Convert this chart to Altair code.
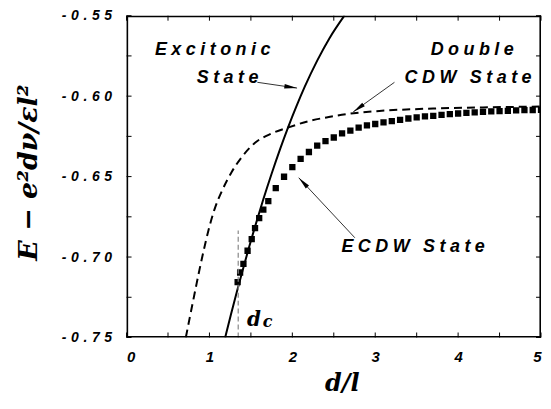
import altair as alt
import pandas as pd

# ---------------- data ----------------
# Double CDW state (dashed)
cdw_d = [0.715, 0.76, 0.80, 0.84, 0.88, 0.93, 0.99, 1.06, 1.15, 1.27, 1.40, 1.55,
         1.75, 1.95, 2.20, 2.44, 2.74, 3.05, 3.70, 4.30, 5.00]
cdw_e = [-0.7500, -0.7383, -0.7280, -0.7178, -0.7078, -0.6960, -0.6830, -0.6705,
         -0.6590, -0.6470, -0.6372, -0.6290, -0.6232, -0.6195, -0.6155, -0.6130,
         -0.6106, -0.6092, -0.6077, -0.6070, -0.6065]

# Excitonic state (solid)
exc_d = [1.19, 1.26, 1.33, 1.40, 1.475, 1.55, 1.65, 1.75, 1.85, 1.95, 2.05, 2.15,
         2.30, 2.45, 2.63]
exc_e = [-0.7500, -0.7356, -0.7217, -0.7083, -0.6944, -0.6811, -0.6641, -0.6482,
         -0.6332, -0.6192, -0.6062, -0.5941, -0.5779, -0.5638, -0.5498]

# ECDW state (squares)
ecdw_d = [1.34, 1.37, 1.41, 1.46, 1.51, 1.55, 1.60, 1.65, 1.71, 1.80, 1.90, 2.00,
          2.10, 2.20, 2.30, 2.40, 2.50, 2.60, 2.70, 2.80, 2.90, 3.00, 3.10, 3.20,
          3.30, 3.40, 3.50, 3.60, 3.70, 3.80, 3.90, 4.00, 4.10, 4.20, 4.30, 4.40,
          4.50, 4.60, 4.70, 4.80, 4.90, 5.00]
ecdw_e = [-0.7156, -0.7096, -0.7043, -0.6961, -0.6889, -0.6820, -0.6758, -0.6705,
          -0.6652, -0.6572, -0.6501, -0.6441, -0.6390, -0.6347, -0.6308, -0.6280,
          -0.6257, -0.6231, -0.6214, -0.6196, -0.6182, -0.6173, -0.6163, -0.6155,
          -0.6147, -0.6139, -0.6132, -0.6126, -0.6122, -0.6117, -0.6112, -0.6108,
          -0.6104, -0.6101, -0.6098, -0.6095, -0.6093, -0.6091, -0.6089, -0.6087,
          -0.6086, -0.6085]

# critical d_c
dc_value = 1.347
dc_top = -0.6835

x_domain = [0.0, 5.0]
y_domain = [-0.75, -0.55]
x_ticks = [0, 1, 2, 3, 4, 5]
x_minor = [0.5, 1.5, 2.5, 3.5, 4.5]
y_ticks = [-0.75, -0.70, -0.65, -0.60, -0.55]
y_minor = [-0.725, -0.675, -0.625, -0.575]

x_title = "d/l"
y_title = "E − e²dν/εl²"

# annotation texts
labels = ["Excitonic", "State", "Double", "CDW State", "ECDW State"]


def spaced(s, gap="\u2005", word="\u2002\u2005"):
    return word.join(gap.join(w) for w in s.split(" "))


# ---------------- layout of annotations ----------------
label_df = pd.DataFrame({
    "txt": [spaced(t) for t in labels],
    "d": [1.039, 1.219, 4.170, 4.120, 2.592],
    "E": [-0.5711, -0.5889, -0.5715, -0.5889, -0.6937],
    "al": ["center", "center", "center", "center", "left"],
})

arrow_df = pd.DataFrame({
    "d": [1.578, 3.232, 2.754],
    "E": [-0.5914, -0.5914, -0.6880],
    "d2": [2.057, 2.734, 2.077],
    "E2": [-0.5950, -0.6098, -0.6507],
    "ang": [98.5, 234.2, 316.95],
})

dc_df = pd.DataFrame({"d": [dc_value], "E": [y_domain[0]], "E2": [dc_top]})
dc_text = pd.DataFrame({"txt": ["d", "c"], "d": [1.536, 1.701], "E": [-0.7429, -0.7437],
                        "fs": [20, 16]})

cdw_df = pd.DataFrame({"d": cdw_d, "E": cdw_e})
exc_df = pd.DataFrame({"d": exc_d, "E": exc_e})
ecdw_df = pd.DataFrame({"d": ecdw_d, "E": ecdw_e})

# frame sides
bot_side = pd.DataFrame({"d": [x_domain[0]], "d2": [x_domain[1]], "E": [y_domain[0]]})
top_side = pd.DataFrame({"d": [x_domain[0]], "d2": [x_domain[1]], "E": [y_domain[1]]})
lef_side = pd.DataFrame({"d": [x_domain[0]], "E": [y_domain[0]], "E2": [y_domain[1]]})
rig_side = pd.DataFrame({"d": [x_domain[1]], "E": [y_domain[0]], "E2": [y_domain[1]]})

all_x = [float(v) for v in x_ticks + x_minor]
all_y = y_ticks + y_minor
bot_df = pd.DataFrame({"d": all_x, "E": [y_domain[0]] * len(all_x)})
top_df = pd.DataFrame({"d": all_x, "E": [y_domain[1]] * len(all_x)})
lef_df = pd.DataFrame({"E": all_y, "d": [x_domain[0]] * len(all_y)})
rig_df = pd.DataFrame({"E": all_y, "d": [x_domain[1]] * len(all_y)})

# ---------------- encodings ----------------
lab_font = "Liberation Sans"
ser_font = "DejaVu Serif"

x_axis = alt.Axis(values=x_ticks, title=x_title, grid=False, ticks=False, tickSize=0,
                  domain=False, labelFont=lab_font, labelFontSize=15,
                  labelFontWeight="bold", labelFontStyle="italic", labelColor="black",
                  labelPadding=12, labelBaseline="top", format="d",
                  titleFont=ser_font, titleFontSize=24, titleFontWeight="bold",
                  titleFontStyle="italic", titleColor="black",
                  titleX=216, titleY=53, titleBaseline="alphabetic", titleAlign="center")
y_axis = alt.Axis(values=y_ticks, title=y_title, grid=False, ticks=False, tickSize=0,
                  domain=False, labelFont=lab_font, labelFontSize=14,
                  labelFontWeight="bold", labelFontStyle="italic", labelColor="black",
                  labelPadding=15, format=".2f",
                  labelExpr="join(split(replace(datum.label, '\u2212', '-'), ''), '\u2004')",
                  titleFont=ser_font, titleFontSize=27, titleFontWeight="bold",
                  titleFontStyle="italic", titleColor="black",
                  titleX=-98, titleY=157, titleAngle=-90, titleBaseline="middle",
                  titleAlign="center")

xs = alt.Scale(domain=x_domain, nice=False, zero=False)
ys = alt.Scale(domain=y_domain, nice=False, zero=False)
X = alt.X("d:Q", scale=xs, axis=x_axis)
Y = alt.Y("E:Q", scale=ys, axis=y_axis)

fw = 1.6
fb = alt.Chart(bot_side).mark_rule(color="black", strokeWidth=fw, yOffset=-0.8).encode(
    x=X, x2="d2:Q", y=Y)
ft = alt.Chart(top_side).mark_rule(color="black", strokeWidth=fw, yOffset=0.8).encode(
    x=X, x2="d2:Q", y=Y)
fl = alt.Chart(lef_side).mark_rule(color="black", strokeWidth=fw, xOffset=0.8).encode(
    x=X, y=Y, y2="E2:Q")
fr = alt.Chart(rig_side).mark_rule(color="black", strokeWidth=fw, xOffset=-0.8).encode(
    x=X, y=Y, y2="E2:Q")

cdw = alt.Chart(cdw_df).mark_line(color="black", strokeWidth=2, strokeDash=[8, 5],
                                  interpolate="monotone", clip=True).encode(x=X, y=Y)
exc = alt.Chart(exc_df).mark_line(color="black", strokeWidth=2,
                                  interpolate="monotone", clip=True).encode(x=X, y=Y)
ecdw = alt.Chart(ecdw_df).mark_square(color="black", size=40, opacity=1,
                                      clip=True).encode(x=X, y=Y)
dcline = alt.Chart(dc_df).mark_rule(color="#888888", strokeWidth=1.2,
                                    strokeDash=[5, 3]).encode(x=X, y=Y, y2="E2:Q")
dclab = alt.Chart(dc_text).mark_text(font=ser_font, fontWeight="bold", fontStyle="italic",
                                     color="black", baseline="alphabetic").encode(
    x=X, y=Y, text="txt:N", size=alt.Size("fs:Q", scale=None))

shafts = alt.Chart(arrow_df).mark_rule(color="black", strokeWidth=0.8).encode(
    x=X, y=Y, x2="d2:Q", y2="E2:Q")
heads = alt.Chart(arrow_df).mark_point(shape="M0,0L0.28,1.6L-0.28,1.6Z", filled=True,
                                       size=256, color="black", opacity=1).encode(
    x=alt.X("d2:Q", scale=xs, axis=x_axis), y=alt.Y("E2:Q", scale=ys, axis=y_axis),
    angle=alt.Angle("ang:Q", scale=None))

texts = []
for al in ["center", "left"]:
    sub = label_df[label_df["al"] == al]
    texts.append(alt.Chart(sub).mark_text(font=lab_font, fontSize=18, fontWeight="bold",
                                          fontStyle="italic", color="black", align=al,
                                          baseline="middle").encode(x=X, y=Y, text="txt:N"))

# inward tick marks drawn as short strokes starting at the frame
tl = 5
def ticks(df, path):
    return alt.Chart(df).mark_point(shape=path, size=(2 * tl) ** 2, strokeWidth=1,
                                    color="black", opacity=1).encode(x=X, y=Y)

tb = ticks(bot_df, "M0,0L0,-1")
tt = ticks(top_df, "M0,0L0,1")
tlf = ticks(lef_df, "M0,0L1,0")
trg = ticks(rig_df, "M0,0L-1,0")

chart = alt.layer(cdw, exc, ecdw, dcline, dclab, shafts, heads, *texts,
                  tb, tt, tlf, trg, fb, ft, fl, fr).properties(
    width=416, height=323,
    padding={"left": 7, "top": 0, "right": 0, "bottom": 0},
).configure(background="white", view=alt.ViewConfig(strokeWidth=0))

chart.save("out.html", embed_options={"renderer": "svg", "actions": False})
